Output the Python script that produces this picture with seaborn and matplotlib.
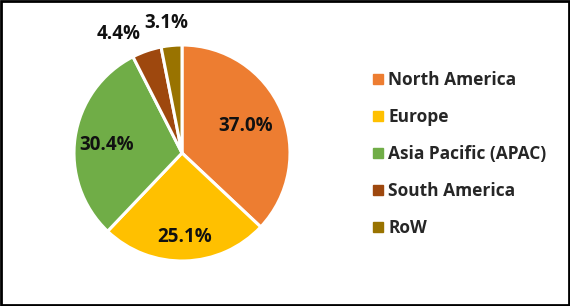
import matplotlib
matplotlib.use("Agg")
import matplotlib.pyplot as plt
import seaborn as sns
import numpy as np
from matplotlib.lines import Line2D
from matplotlib.patches import Rectangle

regions = ["North America", "Europe", "Asia Pacific (APAC)", "South America", "RoW"]
shares = [37.0, 25.1, 30.4, 4.4, 3.1]
colors = ["#ED7D31", "#FFC000", "#70AD47", "#9E480E", "#997300"]
label_radius = [0.64, 0.78, 0.70, 1.25, 1.21]
label_angle_shift = [0, 0, 2, 9, 1.5]

sns.set_theme(style="white")
plt.rcParams['font.family'] = ['Open Sans', 'DejaVu Sans']

fig = plt.figure(figsize=(5.7, 3.06), dpi=100)
cx, cy, r = 182, 153, 108
ax = fig.add_axes([(cx - r) / 570, (306 - cy - r) / 306, 2 * r / 570, 2 * r / 306])
wedges, _ = ax.pie(shares, colors=colors, startangle=90, counterclock=False,
                   wedgeprops=dict(edgecolor="white", linewidth=2.2))
ax.set_xlim(-1, 1)
ax.set_ylim(-1, 1)
ax.set_aspect("auto")

for w, s, rr, sh in zip(wedges, shares, label_radius, label_angle_shift):
    ang = np.deg2rad((w.theta1 + w.theta2) / 2 + sh)
    ax.text(rr * np.cos(ang), rr * np.sin(ang), f"{s:.1f}%", ha="center", va="center",
            fontsize=13.5, fontweight="bold", color="#111111", clip_on=False)

handles = [Line2D([], [], marker="s", linestyle="none", markersize=7,
                  markerfacecolor=c, markeredgecolor=c) for c in colors]
fig.legend(handles, regions, loc="center left", bbox_to_anchor=(357 / 570, 0.497),
           frameon=False, handlelength=0.6, handletextpad=0.3, labelspacing=1.1,
           prop=dict(size=12.5, weight="bold"))

fig.patches.append(Rectangle((0.0015, 0.003), 0.997, 0.994, transform=fig.transFigure,
                             fill=False, edgecolor="black", linewidth=2))
fig.savefig("out.png", dpi=100)
